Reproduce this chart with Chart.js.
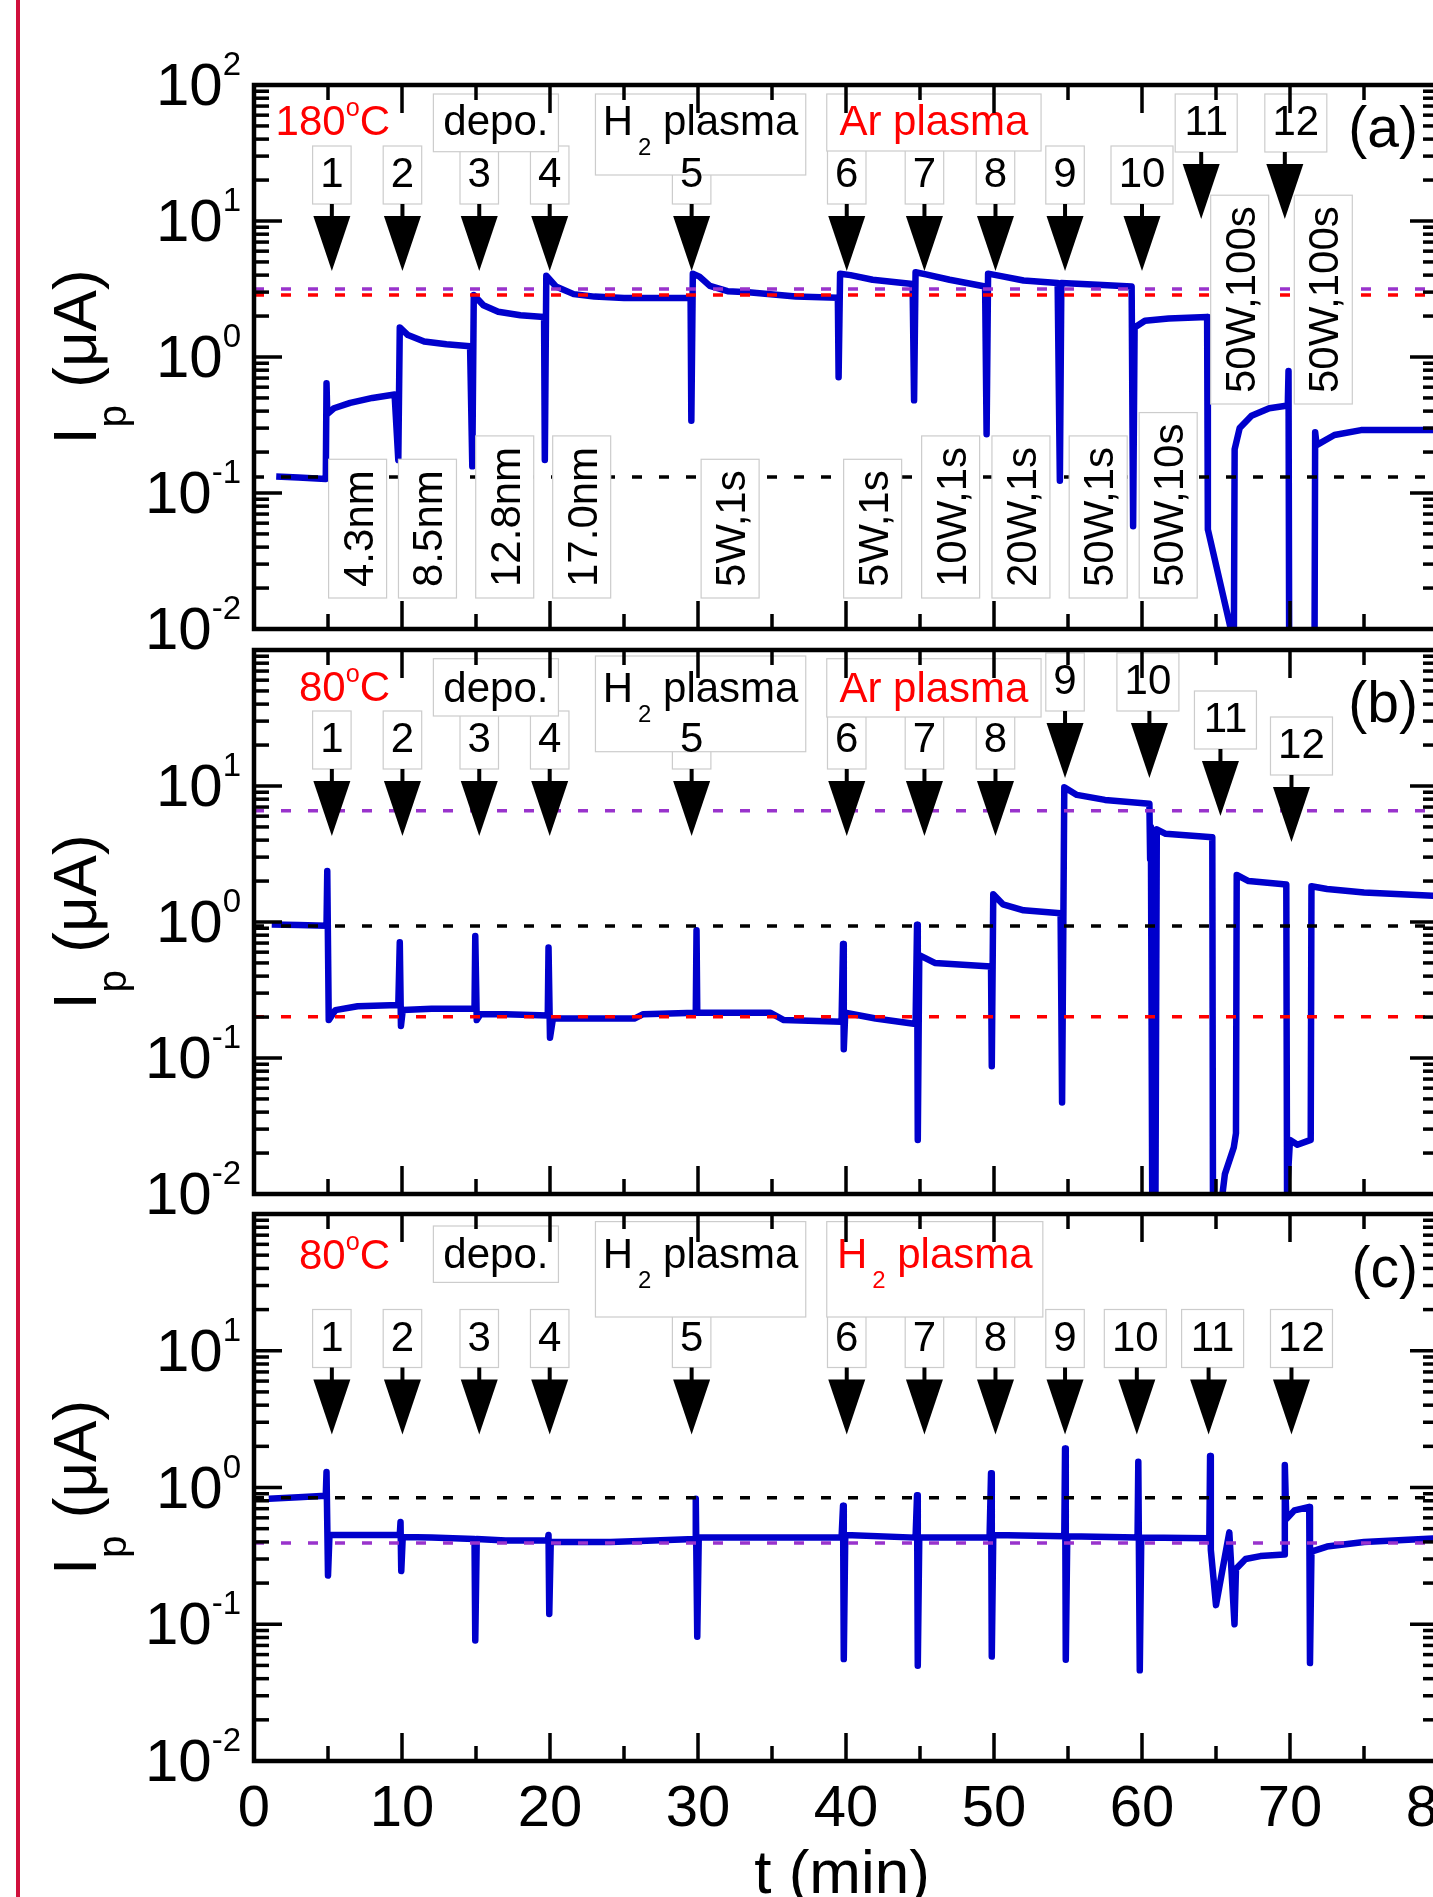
<!DOCTYPE html>
<html>
<head>
<meta charset="utf-8">
<title>Ip vs t</title>
<script src="https://cdn.jsdelivr.net/npm/chart.js@4.4.1/dist/chart.umd.min.js"></script>
<style>
  html, body { margin: 0; padding: 0; background: #fff; width: 1433px; height: 1897px; overflow: hidden; }
  canvas { position: absolute; left: 0; top: 0; }
  #edge { position: absolute; left: 16px; top: 0; width: 4px; height: 1897px; background: #d0103c; }
</style>
</head>
<body>
<div id="edge"></div>
<canvas id="panelA" width="1470" height="1897"></canvas>
<canvas id="panelB" width="1470" height="1897"></canvas>
<canvas id="panelC" width="1470" height="1897"></canvas>
<script>
// axes
const xTicks = [0, 10, 20, 30, 40, 50, 60, 70, 80];
const yDecades = [-2, -1, 0, 1, 2];
const xTitle = 't (min)';
const yTitle = 'I_p (μA)';
const stepLabels = ['1', '2', '3', '4', '5', '6', '7', '8', '9', '10', '11', '12'];

// (a) 180 C, Ar plasma
const tA = [1.5, 3.0, 4.85, 4.9, 4.95, 5.4, 6.5, 8.0, 9.5, 9.75, 9.85, 10.4, 11.5, 13.0, 14.6, 14.75, 14.85, 15.5, 16.5, 18.0, 19.6,
  19.65, 19.75, 20.4, 21.6, 23.0, 25.0, 27.0, 29.5, 29.55, 29.65, 30.1, 30.8, 32.0, 33.4, 36.6, 39.45, 39.5, 39.6, 40.3, 41.8, 44.5,
  44.6, 44.7, 45.4, 47.0, 49.4, 49.5, 49.6, 50.4, 52.0, 54.3, 54.45, 54.55, 57.0, 59.3, 59.4, 59.5, 60.2, 61.8, 64.4, 64.45, 66.0, 66.1,
  66.2, 66.26, 66.6, 67.4, 68.6, 69.85, 69.9, 69.95, 71.65, 71.7, 71.8, 73.0, 74.8, 77.0, 80.0];
const iA = [0.132, 0.130, 0.127, 0.64, 0.38, 0.42, 0.46, 0.50, 0.53, 0.175, 1.65, 1.45, 1.30, 1.24, 1.20, 0.157, 2.86, 2.40, 2.15, 2.03, 1.97,
  0.175, 3.96, 3.30, 2.90, 2.78, 2.72, 2.72, 2.73, 0.34, 4.10, 3.90, 3.33, 3.05, 2.99, 2.79, 2.73, 0.71, 4.10, 4.00, 3.70, 3.44,
  0.48, 4.20, 4.05, 3.70, 3.30, 0.27, 4.10, 3.95, 3.65, 3.50, 0.123, 3.50, 3.40, 3.30, 0.057, 1.65, 1.85, 1.92, 1.97, 0.054, 0.010, 0.007,
  0.005, 0.21, 0.30, 0.37, 0.42, 0.44, 0.79, 0.004, 0.004, 0.28, 0.225, 0.267, 0.29, 0.29, 0.29];
const refA = [3.16, 2.86, 0.131];
const arrowTA = [5.26, 10.03, 15.22, 19.98, 29.57, 40.05, 45.3, 50.1, 54.8, 60.0, 64.0, 69.65];
const groupTextA = ['depo.', 'H_2 plasma', 'Ar plasma'];
const noteTextA = ['4.3nm', '8.5nm', '12.8nm', '17.0nm', '5W,1s', '5W,1s', '10W,1s', '20W,1s', '50W,1s', '50W,10s', '50W,100s', '50W,100s'];
const noteTA = [7.0, 11.72, 16.94, 22.14, 32.17, 41.8, 47.07, 51.82, 57.04, 61.77, 66.6, 72.25];

// (b) 80 C, Ar plasma
const tB = [1.2, 3.0, 4.9, 4.95, 5.05, 5.5, 7.0, 9.75, 9.85, 9.93, 10.05, 12.0, 14.9, 14.95, 15.05, 15.3, 17.0, 19.85, 19.9, 20.0, 20.2,
  22.0, 25.7, 26.3, 29.85, 29.9, 29.95, 34.9, 35.8, 39.7, 39.8, 39.85, 39.95, 42.0, 44.7, 44.8, 44.85, 44.95, 46.0, 49.8, 49.85, 49.95,
  50.6, 52.0, 54.5, 54.6, 54.75, 55.6, 57.5, 60.5, 60.55, 60.6, 60.7, 60.9, 61.0, 61.6, 64.75, 64.8, 65.1, 65.6, 66.2, 66.35, 66.4,
  67.2, 69.75, 69.8, 70.0, 70.5, 71.4, 71.45, 72.5, 75.0, 80.0];
const iB = [0.96, 0.95, 0.94, 2.37, 0.19, 0.225, 0.24, 0.245, 0.71, 0.172, 0.225, 0.23, 0.23, 0.79, 0.19, 0.21, 0.21, 0.205, 0.65, 0.141, 0.195,
  0.195, 0.195, 0.21, 0.215, 0.87, 0.215, 0.215, 0.19, 0.185, 0.69, 0.116, 0.215, 0.195, 0.178, 0.955, 0.025, 0.57, 0.50, 0.47, 0.087, 1.60,
  1.35, 1.22, 1.16, 0.047, 9.8, 8.6, 7.9, 7.4, 2.9, 5.0, 0.005, 0.005, 4.8, 4.45, 4.2, 0.005, 0.005, 0.014, 0.022, 0.028, 2.22,
  2.0, 1.89, 0.0103, 0.025, 0.023, 0.025, 1.83, 1.75, 1.65, 1.55];
const refB = [6.58, 0.935, 0.201];
const arrowTB = [5.26, 10.03, 15.22, 19.98, 29.57, 40.05, 45.3, 50.1, 54.8, 60.5, 65.3, 70.1];
const groupTextB = ['depo.', 'H_2 plasma', 'Ar plasma'];

// (c) 80 C, H2 plasma
const tC = [1.0, 3.0, 4.85, 4.9, 5.0, 5.1, 7.0, 9.85, 9.9, 9.95, 10.05, 12.0, 14.9, 14.95, 15.05, 17.0, 19.85, 19.9, 19.95, 20.05, 24.1,
  27.0, 29.8, 29.85, 29.95, 30.05, 35.0, 39.7, 39.8, 39.85, 39.95, 44.7, 44.8, 44.85, 44.95, 49.7, 49.8, 49.85, 49.95, 54.75, 54.8, 54.85,
  54.95, 59.7, 59.75, 59.85, 59.95, 64.55, 64.6, 64.65, 65.0, 65.9, 66.25, 66.35, 67.0, 68.0, 69.6, 69.65, 69.75, 70.3, 71.3, 71.35,
  71.45, 72.5, 75.0, 80.0];
const iC = [0.826, 0.85, 0.87, 1.30, 0.227, 0.45, 0.45, 0.45, 0.56, 0.245, 0.434, 0.43, 0.42, 0.076, 0.42, 0.41, 0.41, 0.45, 0.119, 0.40, 0.40,
  0.41, 0.42, 0.826, 0.081, 0.43, 0.43, 0.43, 0.736, 0.0556, 0.45, 0.43, 0.877, 0.0497, 0.43, 0.43, 1.27, 0.058, 0.45, 0.44, 1.93, 0.055,
  0.44, 0.43, 1.54, 0.046, 0.43, 0.426, 1.70, 0.35, 0.138, 0.47, 0.10, 0.254, 0.30, 0.315, 0.324, 1.46, 0.587, 0.68, 0.72, 0.052,
  0.34, 0.37, 0.40, 0.425];
const refC = [0.843, 0.392];
const arrowTC = [5.26, 10.03, 15.22, 19.98, 29.57, 40.05, 45.3, 50.1, 54.8, 59.65, 64.5, 70.1];
const groupTextC = ['depo.', 'H_2 plasma', 'H_2 plasma'];

const FONT = '"Liberation Sans", Arial, Helvetica, sans-serif';
const BLUE = '#0000cc';
const PURPLE = '#9933cc';
const RED = '#ff0000';
const BLACK = '#000000';
const BOXLINE = '#cccccc';

// "H_2", "10^{-2}" -> plain / sub / sup pieces
function parseRich(s) {
  const parts = [];
  let buf = '';
  for (let k = 0; k < s.length; k++) {
    const c = s[k];
    if (c === '^' || c === '_') {
      if (buf) { parts.push({ t: buf }); buf = ''; }
      let g;
      if (s[k + 1] === '{') { const e = s.indexOf('}', k); g = s.slice(k + 2, e); k = e; }
      else { g = s[k + 1]; k++; }
      parts.push({ t: g, sup: c === '^', sub: c === '_' });
    } else buf += c;
  }
  if (buf) parts.push({ t: buf });
  return parts;
}

function drawRich(ctx, s, x, y, size, color, align, st) {
  st = Object.assign({ small: 0.55, rise: 0.45, drop: 0.45, pad: 0 }, st || {});
  const parts = parseRich(s);
  const fontOf = p => ((p.sup || p.sub) ? size * st.small : size) + 'px ' + FONT;
  let w = 0;
  parts.forEach(p => {
    ctx.font = fontOf(p);
    p.w = ctx.measureText(p.t).width;
    w += p.w + ((p.sup || p.sub) ? st.pad : 0);
  });
  let cx = align === 'center' ? x - w / 2 : align === 'right' ? x - w : x;
  ctx.fillStyle = color;
  ctx.textAlign = 'left';
  ctx.textBaseline = 'alphabetic';
  parts.forEach(p => {
    ctx.font = fontOf(p);
    if (p.sup || p.sub) cx += st.pad;
    const dy = p.sup ? -size * st.rise : p.sub ? size * st.drop : 0;
    ctx.fillText(p.t, cx, y + dy);
    cx += p.w;
  });
}

function seg(ctx, x1, y1, x2, y2) {
  ctx.beginPath(); ctx.moveTo(x1, y1); ctx.lineTo(x2, y2); ctx.stroke();
}

function box(ctx, x0, y0, x1, y1) {
  ctx.fillStyle = '#fff';
  ctx.fillRect(x0, y0, x1 - x0, y1 - y0);
  ctx.strokeStyle = BOXLINE;
  ctx.lineWidth = 1.2;
  ctx.strokeRect(x0, y0, x1 - x0, y1 - y0);
}

function drawNotes(chart, p) {
  const ctx = chart.ctx, xs = chart.scales.x, top = chart.chartArea.top;
  ctx.save();
  // rotated condition labels
  (p.notes || []).forEach((s, k) => {
    ctx.font = '42px ' + FONT;
    const len = ctx.measureText(s).width + 22;
    const cx = xs.getPixelForValue(p.noteT[k]);
    const bot = top + p.noteBottom[k];
    box(ctx, cx - 29, bot - len, cx + 29, bot);
    ctx.save();
    ctx.translate(cx + 15, bot - len / 2);
    ctx.rotate(-Math.PI / 2);
    drawRich(ctx, s, 0, 0, 42, BLACK, 'center');
    ctx.restore();
  });
  // step number boxes
  const boxes = p.arrows.map((t, k) => {
    const w = stepLabels[k].length > 1 ? 62 : 38.5;
    const cx = xs.getPixelForValue(t) + p.boxShift[k];
    const y0 = top + p.boxTop[k];
    box(ctx, cx - w / 2, y0, cx + w / 2, y0 + 58);
    return { cx, y0 };
  });
  // group label boxes
  p.groups.forEach(g => {
    box(ctx, xs.getPixelForValue(g.t0), top + g.top, xs.getPixelForValue(g.t1), top + g.bot);
  });
  p.groups.forEach((g, k) => {
    const cx = (xs.getPixelForValue(g.t0) + xs.getPixelForValue(g.t1)) / 2;
    drawRich(ctx, p.groupText[k], cx, top + p.groupBase, 42, g.color, 'center', { small: 0.57, drop: 0.48, pad: 5 });
  });
  boxes.forEach((b, k) => {
    drawRich(ctx, stepLabels[k], b.cx, b.y0 + 41, 42, BLACK, 'center');
  });
  drawRich(ctx, p.temp, 390, top + p.tempBase, 42, RED, 'right', { small: 0.6, rise: 0.45 });
  drawRich(ctx, p.letter, 1418, top + p.letterBase, 57, BLACK, 'right');
  // arrows
  p.arrows.forEach((t, k) => {
    const x = xs.getPixelForValue(t);
    const tip = top + p.boxTop[k] + 125;
    ctx.strokeStyle = BLACK; ctx.fillStyle = BLACK; ctx.lineWidth = 4;
    seg(ctx, x, top + p.boxTop[k] + 58, x, tip - 50);
    ctx.beginPath();
    ctx.moveTo(x - 18.5, tip - 55); ctx.lineTo(x + 18.5, tip - 55); ctx.lineTo(x, tip);
    ctx.closePath(); ctx.fill();
  });
  ctx.restore();
}

function drawAxes(chart, p) {
  const ctx = chart.ctx, xs = chart.scales.x, ys = chart.scales.y, a = chart.chartArea;
  ctx.save();
  ctx.strokeStyle = BLACK; ctx.lineWidth = 3.5; ctx.lineCap = 'butt';
  for (let t = 5; t < 80; t += 5) {
    const x = xs.getPixelForValue(t), len = t % 10 === 0 ? 28 : 15;
    seg(ctx, x, a.bottom, x, a.bottom - len);
    seg(ctx, x, a.top, x, a.top + len);
  }
  for (let d = yDecades[0]; d < yDecades[yDecades.length - 1]; d++) {
    for (let m = 1; m < 10; m++) {
      if (d === yDecades[0] && m === 1) continue;
      const y = ys.getPixelForValue(m * Math.pow(10, d)), len = m === 1 ? 28 : 15;
      seg(ctx, a.left, y, a.left + len, y);
      seg(ctx, a.right, y, a.right - len, y);
    }
  }
  ctx.lineWidth = 4.5;
  ctx.strokeRect(a.left, a.top, a.right - a.left, a.bottom - a.top);
  // the top decade label is only printed on the first panel
  yDecades.filter(e => p.topLabel || e < yDecades[yDecades.length - 1]).forEach(e => {
    const y = ys.getPixelForValue(Math.pow(10, e));
    drawRich(ctx, '10^{' + e + '}', 241, y + 20, 60, BLACK, 'right', { small: 0.55, rise: 0.5 });
  });
  ctx.save();
  ctx.translate(96, (a.top + a.bottom) / 2);
  ctx.rotate(-Math.PI / 2);
  drawRich(ctx, yTitle, 0, 0, 62, BLACK, 'center', { small: 0.65, drop: 0.48 });
  ctx.restore();
  if (p.xLabels) {
    xTicks.forEach(t => drawRich(ctx, String(t), xs.getPixelForValue(t), a.bottom + 65, 58, BLACK, 'center'));
    drawRich(ctx, xTitle, 842, 1893, 62, BLACK, 'center');
  }
  ctx.restore();
}

function makePanel(p) {
  const refColors = p.refColors;
  const datasets = p.refs.map((v, k) => ({
    data: [{ x: 0, y: v }, { x: 80, y: v }],
    borderColor: refColors[k], borderWidth: 3.5, borderDash: [10, 17], order: 1, clip: 0
  }));
  datasets.push({
    data: p.t.map((t, k) => ({ x: t, y: p.i[k] })),
    borderColor: BLUE, borderWidth: 6.5, borderJoinStyle: 'round', order: 2, clip: 0
  });
  new Chart(document.getElementById(p.id), {
    type: 'line',
    data: { datasets },
    options: {
      responsive: false, animation: false, events: [],
      layout: { padding: { left: 254, right: 1470 - 1438, top: p.top, bottom: 1897 - p.bottom } },
      scales: {
        x: { type: 'linear', min: 0, max: 80, display: false },
        y: { type: 'logarithmic', min: 0.01, max: 100, display: false }
      },
      elements: { point: { radius: 0 }, line: { tension: 0 } },
      plugins: { legend: { display: false }, tooltip: { enabled: false } }
    },
    plugins: [{
      id: 'deco' + p.id,
      afterDatasetsDraw(chart) { drawNotes(chart, p); },
      afterDraw(chart) { drawAxes(chart, p); }
    }]
  });
}

makePanel({
  id: 'panelA', top: 85, bottom: 629, t: tA, i: iA, refs: refA, refColors: [PURPLE, RED, BLACK], topLabel: true,
  arrows: arrowTA, boxTop: [61, 61, 61, 61, 61, 61, 61, 61, 61, 61, 9, 9], boxShift: [0, 0, 0, 0, 0, 0, 0, 0, 0, 0, 5, 11],
  groupText: groupTextA, groupBase: 50,
  groups: [
    { t0: 12.12, t1: 20.57, top: 9, bot: 66.7, color: BLACK },
    { t0: 23.07, t1: 37.28, top: 9, bot: 90, color: BLACK },
    { t0: 38.7, t1: 53.18, top: 9, bot: 66, color: RED }
  ],
  notes: noteTextA, noteT: noteTA, noteBottom: [513, 513, 513, 513, 513, 513, 513, 513, 513, 513, 319, 319],
  temp: '180^oC', tempBase: 50, letter: '(a)', letterBase: 62
});

makePanel({
  id: 'panelB', top: 650, bottom: 1194, t: tB, i: iB, refs: refB, refColors: [PURPLE, BLACK, RED],
  arrows: arrowTB, boxTop: [61, 61, 61, 61, 61, 61, 61, 61, 3, 3, 41, 67], boxShift: [0, 0, 0, 0, 0, 0, 0, 0, 0, -1.5, 5, 10],
  groupText: groupTextB, groupBase: 52,
  groups: [
    { t0: 12.12, t1: 20.57, top: 8.7, bot: 66, color: BLACK },
    { t0: 23.07, t1: 37.28, top: 6, bot: 101.7, color: BLACK },
    { t0: 38.7, t1: 53.18, top: 8.7, bot: 67, color: RED }
  ],
  temp: '80^oC', tempBase: 51, letter: '(b)', letterBase: 72
});

makePanel({
  id: 'panelC', top: 1214, bottom: 1761, t: tC, i: iC, refs: refC, refColors: [BLACK, PURPLE],
  arrows: arrowTC, boxTop: [95.5, 95.5, 95.5, 95.5, 95.5, 95.5, 95.5, 95.5, 95.5, 95.5, 95.5, 95.5],
  boxShift: [0, 0, 0, 0, 0, 0, 0, 0, 0, -1.5, 4, 10],
  groupText: groupTextC, groupBase: 54,
  groups: [
    { t0: 12.12, t1: 20.57, top: 12, bot: 68.4, color: BLACK },
    { t0: 23.07, t1: 37.28, top: 7.6, bot: 103, color: BLACK },
    { t0: 38.7, t1: 53.3, top: 7.6, bot: 103, color: RED }
  ],
  temp: '80^oC', tempBase: 55, letter: '(c)', letterBase: 73, xLabels: true
});
</script>
</body>
</html>
